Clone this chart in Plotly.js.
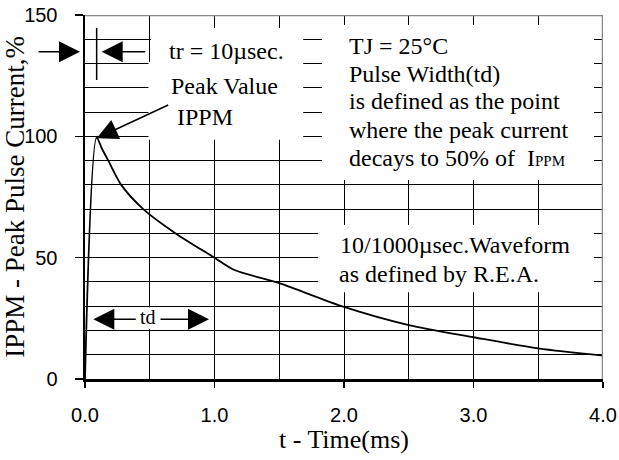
<!DOCTYPE html>
<html>
<head>
<meta charset="utf-8">
<script src="https://cdn.plot.ly/plotly-3.0.1.min.js"></script>
<style>html,body{margin:0;padding:0;background:#fff;}#chart{width:619px;height:460px;}</style>
</head>
<body>
<div id="chart"></div>
<script>
// Waveform
const timeMs = [0, 0.09, 0.13, 0.18, 0.28, 0.45, 0.7, 1.0, 1.15, 1.5, 2.0, 2.5, 3.0, 3.5, 4.0];
const currentPct = [0, 99.5, 95, 90, 80, 70, 60, 50, 45, 39.5, 29.7, 22.2, 17.2, 12.6, 9.6];
const xTicks = [0, 1, 2, 3, 4];
const xTickText = ['0.0', '1.0', '2.0', '3.0', '4.0'];
const yTicks = [0, 50, 100, 150];
const yTickText = ['0', '50', '100', '150'];

const serif = '"Liberation Serif"';
const sans = '"Liberation Sans"';

const trace = {
  x: timeMs, y: currentPct, type: 'scatter', mode: 'lines',
  line: {color: '#000', width: 1.8, shape: 'spline', smoothing: 0.8},
  hoverinfo: 'skip', cliponaxis: false
};

// pixel -> paper helpers for the plot area (l=85, w=518, t=15, h=364)
const px = p => (p - 85) / 518;
const py = p => (379 - p) / 364;

function txt(text, x, y, size, anchor) {
  return {text: text, x: x, y: y, xref: 'x', yref: 'y', showarrow: false,
    xanchor: anchor || 'left', yanchor: 'middle',
    font: {family: serif, size: size || 24, color: '#000'}};
}
function arrow(hx, hy, ax, ay) {
  return {text: '', x: px(hx), y: py(hy), xref: 'paper', yref: 'paper', ax: ax, ay: ay,
    showarrow: true, arrowhead: 2, arrowsize: 2.8, arrowwidth: 1.5,
    arrowcolor: '#000', standoff: 0, startstandoff: 0};
}
function whiteBox(x0, x1, y0, y1) {
  return {type: 'rect', xref: 'x', yref: 'y', x0: x0, x1: x1, y0: y0, y1: y1,
    fillcolor: '#fff', line: {width: 0}, layer: 'between'};
}

const layout = {
  width: 619, height: 460,
  margin: {l: 85, r: 16, t: 15, b: 81},
  paper_bgcolor: '#fff', plot_bgcolor: '#fff',
  showlegend: false,
  xaxis: {
    range: [0, 4], tickvals: xTicks, ticktext: xTickText,
    showgrid: true, gridcolor: '#000', gridwidth: 1,
    minor: {dtick: 0.5, showgrid: true, gridcolor: '#000', gridwidth: 1, ticks: ''},
    showline: true, linecolor: '#000', linewidth: 2.5,
    ticks: 'outside', ticklen: 6, tickwidth: 1.5, tickcolor: '#000',
    ticklabelstandoff: 10,
    tickfont: {family: sans, size: 20, color: '#000'},
    zeroline: false, fixedrange: true,
    title: {text: 't - Time(ms)', font: {family: serif, size: 26, color: '#000'}, standoff: 2}
  },
  yaxis: {
    range: [0, 150], tickvals: yTicks, ticktext: yTickText,
    showgrid: true, gridcolor: '#000', gridwidth: 1,
    minor: {dtick: 10, showgrid: true, gridcolor: '#000', gridwidth: 1, ticks: ''},
    showline: true, linecolor: '#000', linewidth: 2.5,
    ticks: 'outside', ticklen: 8, tickwidth: 1.5, tickcolor: '#000',
    ticklabelstandoff: 13,
    tickfont: {family: sans, size: 20, color: '#000'},
    zeroline: false, fixedrange: true,
    title: {text: 'IPPM - Peak Pulse Current,%', font: {family: serif, size: 27, color: '#000'}, standoff: 3}
  },
  shapes: [
    // white label backgrounds covering the grid
    whiteBox(0.51, 1.685, 144.6, 130.6),
    whiteBox(0.49, 1.685, 130.6, 98.6),
    whiteBox(1.83, 3.93, 145.9, 82),
    whiteBox(1.80, 3.93, 63.5, 35.8),
    whiteBox(0.41, 0.565, 29.5, 20.5),
    // rise-time marker
    {type: 'line', xref: 'x', yref: 'y', x0: 0.09, x1: 0.09, y0: 123.2, y1: 144.7,
      line: {color: '#000', width: 1.5}},
    // gray top and right frame
    {type: 'line', xref: 'x', yref: 'y', x0: 0, x1: 4, y0: 150, y1: 150,
      line: {color: '#888', width: 2.5}, layer: 'above'},
    {type: 'line', xref: 'x', yref: 'y', x0: 4, x1: 4, y0: 0, y1: 150,
      line: {color: '#888', width: 2.5}, layer: 'above'}
  ],
  annotations: [
    txt('tr = 10µsec.', 0.631, 135.1),
    txt('Peak Value', 0.651, 120.9),
    txt('IPPM', 0.695, 107.9),
    txt('TJ = 25°C', 2.022, 137.2),
    txt('Pulse Width(td)', 2.022, 125.5),
    txt('is defined as the point', 2.022, 114.5),
    txt('where the peak current', 2.022, 102.8),
    txt('decays to 50% of  I<span style="font-size:15px">PPM</span>', 2.022, 91.2),
    txt('10/1000µsec.Waveform', 1.957, 55.2),
    txt('as defined by R.E.A.', 1.945, 43.1),
    txt('td', 0.485, 25.4, 20, 'center'),
    arrow(80, 51.7, -43, 0),
    arrow(101.7, 51.7, 45, 0),
    arrow(96.7, 138.3, 73, -34),
    arrow(93.3, 319.3, 44, 0),
    arrow(209, 319.3, -50, 0)
  ]
};

Plotly.newPlot('chart', [trace], layout, {displayModeBar: false, staticPlot: true});
</script>
</body>
</html>
